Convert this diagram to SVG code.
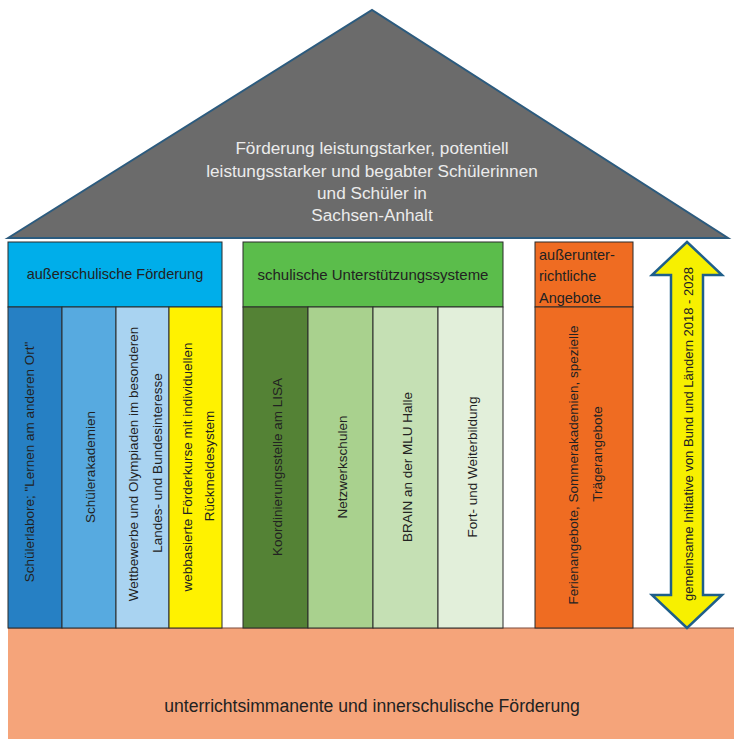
<svg xmlns="http://www.w3.org/2000/svg" width="734" height="739" viewBox="0 0 734 739">
<style>
text{font-family:"Liberation Sans",Arial,sans-serif;fill:#222222}
.box{stroke:#2b2b2b;stroke-width:1}
.hdr{font-size:14.5px}
.col{font-size:13.5px}
.roof{font-size:17.2px;fill:#ececec}
.v{text-anchor:middle;dominant-baseline:central}
</style>
<rect width="734" height="739" fill="#ffffff"/>
<g id="roof">
<polygon points="8,238 372,10 728,238" fill="#6b6b6b" stroke="#2c5b7e" stroke-width="2"/>
<text class="roof" text-anchor="middle" x="372" y="154">Förderung leistungstarker, potentiell</text>
<text class="roof" text-anchor="middle" x="372" y="177">leistungsstarker und begabter Schülerinnen</text>
<text class="roof" text-anchor="middle" x="372" y="199">und Schüler in</text>
<text class="roof" text-anchor="middle" x="372" y="221">Sachsen-Anhalt</text>
</g>
<g id="foundation">
<rect x="8" y="628" width="726" height="111" fill="#f5a47a"/>
<line x1="8" y1="628" x2="734" y2="628" stroke="#7a4a3a" stroke-width="1"/>
<text text-anchor="middle" x="372" y="712" style="font-size:17.6px">unterrichtsimmanente und innerschulische Förderung</text>
</g>
<g id="ausserschulisch">
<rect class="box" x="8" y="242" width="214" height="65" fill="#00aeea"/>
<text class="hdr" text-anchor="middle" x="115" y="279">außerschulische Förderung</text>
</g>
<g id="schuelerlabore">
<rect class="box" x="8" y="307" width="54" height="321" fill="#2680c4"/>
<text class="col v" transform="translate(29,462) rotate(-90)">Schülerlabore; "Lernen am anderen Ort"</text>
</g>
<g id="schuelerakademien">
<rect class="box" x="62" y="307" width="54" height="321" fill="#57aae0"/>
<text class="col v" transform="translate(90,467) rotate(-90)">Schülerakademien</text>
</g>
<g id="wettbewerbe">
<rect class="box" x="116" y="307" width="53" height="321" fill="#a9d3f1"/>
<text class="col v" transform="translate(133,464) rotate(-90)">Wettbewerbe und Olympiaden im besonderen</text>
<text class="col v" transform="translate(157,463) rotate(-90)">Landes- und Bundesinteresse</text>
</g>
<g id="webbasiert">
<rect class="box" x="169" y="307" width="53" height="321" fill="#fff200"/>
<text class="col v" transform="translate(187,467) rotate(-90)">webbasierte Förderkurse mit individuellen</text>
<text class="col v" transform="translate(209,466) rotate(-90)">Rückmeldesystem</text>
</g>
<g id="schulisch">
<rect class="box" x="243" y="242" width="260" height="65" fill="#5bbd4b"/>
<text text-anchor="middle" x="373" y="280" style="font-size:15px">schulische Unterstützungssysteme</text>
</g>
<g id="koordinierung">
<rect class="box" x="243" y="307" width="65" height="321" fill="#548235"/>
<text class="col v" transform="translate(277,467) rotate(-90)">Koordinierungsstelle am LISA</text>
</g>
<g id="netzwerkschulen">
<rect class="box" x="308" y="307" width="65" height="321" fill="#a9d18e"/>
<text class="col v" transform="translate(342,467) rotate(-90)">Netzwerkschulen</text>
</g>
<g id="brain">
<rect class="box" x="373" y="307" width="65" height="321" fill="#c5e0b4"/>
<text class="col v" transform="translate(407,467) rotate(-90)">BRAIN an der MLU Halle</text>
</g>
<g id="fortbildung">
<rect class="box" x="438" y="307" width="65" height="321" fill="#e2efda"/>
<text class="col v" transform="translate(472,467) rotate(-90)">Fort- und Weiterbildung</text>
</g>
<g id="ausserunterrichtlich">
<rect class="box" x="535" y="242" width="98" height="65" fill="#ef6c22"/>
<text class="hdr" x="539" y="260">außerunter-</text>
<text class="hdr" x="539" y="281">richtliche</text>
<text class="hdr" x="539" y="303">Angebote</text>
</g>
<g id="ferienangebote">
<rect class="box" x="535" y="307" width="98" height="321" fill="#ef6c22"/>
<text class="col v" transform="translate(573,465) rotate(-90)">Ferienangebote, Sommerakademien, spezielle</text>
<text class="col v" transform="translate(597,454) rotate(-90)">Trägerangebote</text>
</g>
<g id="initiative">
<polygon points="687,242 722,275 703,275 703,595 722,595 687,628 652,595 671,595 671,275 652,275" fill="#f7f000" stroke="#1f5f8a" stroke-width="2.5" stroke-linejoin="miter"/>
<text class="v" style="font-size:13px" transform="translate(688,434) rotate(-90)">gemeinsame Initiative von Bund und Ländern 2018 - 2028</text>
</g>
</svg>
